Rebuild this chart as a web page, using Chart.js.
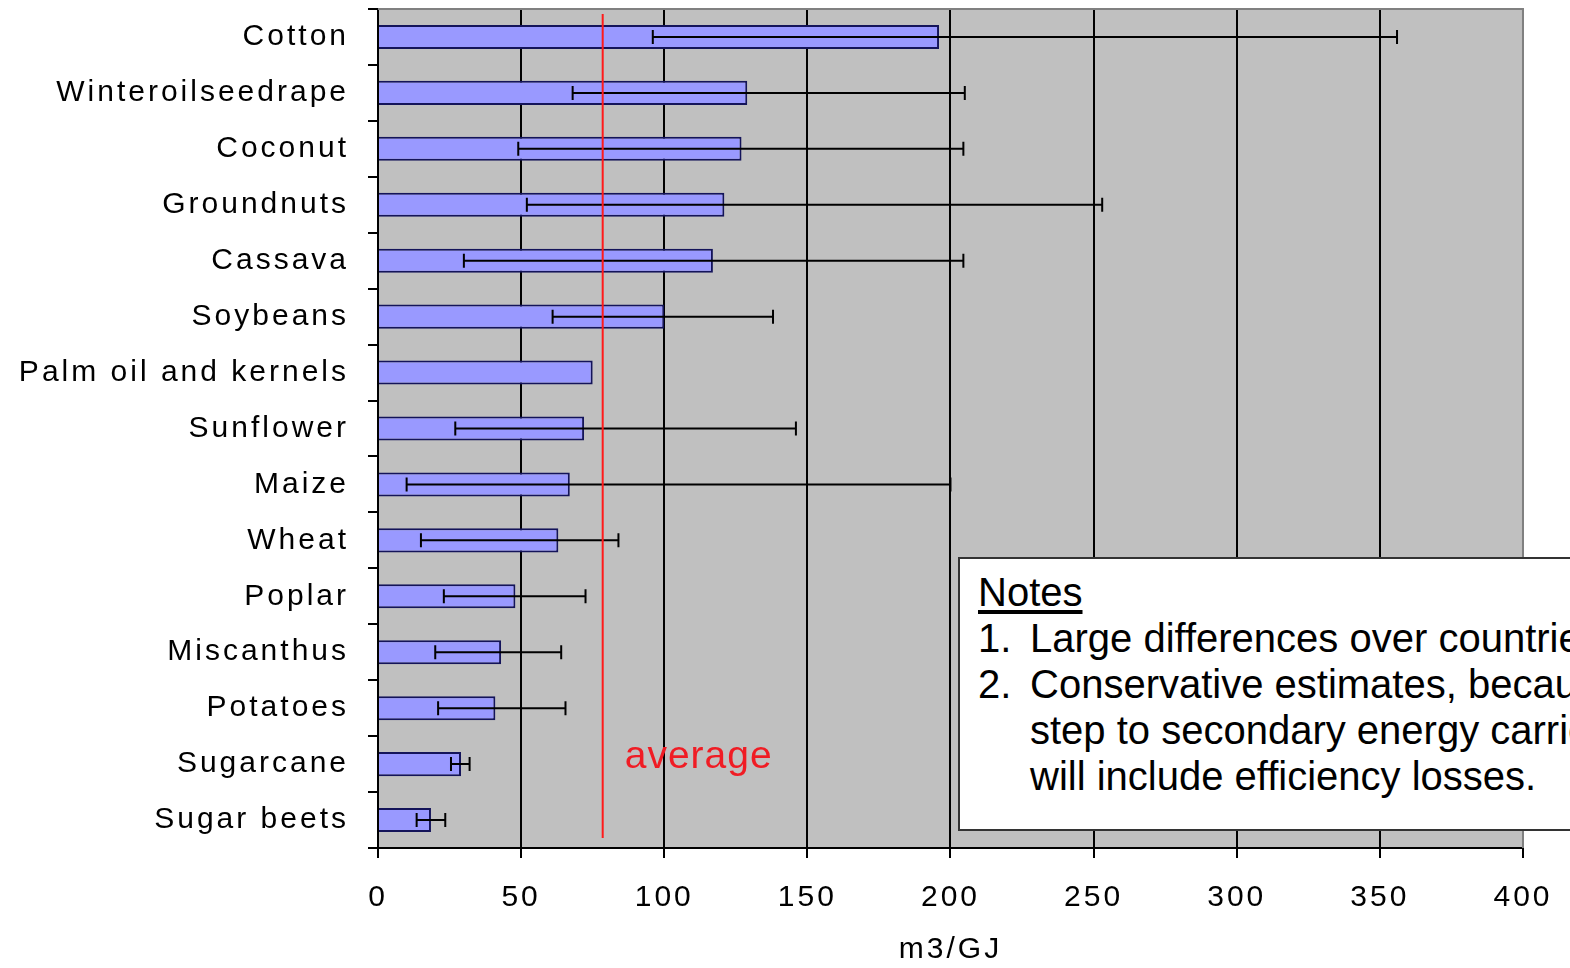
<!DOCTYPE html>
<html>
<head>
<meta charset="utf-8">
<script src="https://cdn.jsdelivr.net/npm/chart.js@4.4.1/dist/chart.umd.min.js"></script>
<style>
    html, body { margin: 0; padding: 0; background: #fff; overflow: hidden; }
    #wrap { position: relative; width: 1570px; height: 968px; }
    #notes {
        position: absolute;
        left: 958px;
        top: 557px;
        width: 700px;
        height: 274px;
        border: 2px solid #333;
        background: #fff;
        font-family: "Liberation Sans", Arial, sans-serif;
        font-size: 40px;
        line-height: 46px;
        color: #000;
        padding: 10px 0 0 18px;
        box-sizing: border-box;
        white-space: nowrap;
    }
    #notes .title { text-decoration: underline; text-underline-offset: 4px; }
    #notes .row { display: flex; }
    #notes .num { width: 52px; flex: none; }
</style>
</head>
<body>
<div id="wrap">
    <canvas id="myChart"></canvas>
    <div id="notes">
        <div class="title">Notes</div>
        <div class="row"><span class="num">1.</span><span>Large differences over countries</span></div>
        <div class="row"><span class="num">2.</span><span>Conservative estimates, because the conversion<br>step to secondary energy carriers<br>will include efficiency losses.</span></div>
    </div>
</div>
<script>
const crops = ["Cotton", "Winteroilseedrape", "Coconut", "Groundnuts", "Cassava", "Soybeans",
    "Palm oil and kernels", "Sunflower", "Maize", "Wheat", "Poplar", "Miscanthus",
    "Potatoes", "Sugarcane", "Sugar beets"];
const values = [196, 129, 127, 121, 117, 100, 75, 72, 67, 63, 48, 43, 41, 29, 18.5];
const errLow = [96, 68, 49, 52, 30, 61, null, 27, 10, 15, 23, 20, 21, 25.5, 13.5];
const errHigh = [356, 205, 204.5, 253, 204.5, 138, null, 146, 200, 84, 72.5, 64, 65.5, 32, 23.5];
const xTicks = [0, 50, 100, 150, 200, 250, 300, 350, 400];
const average = 78.5;

const fontFamily = '"Liberation Sans", Arial, sans-serif';

// grey plot background, border on top/right, spaced-out axis text
const plotBackground = {
    id: 'plotBackground',
    beforeDraw: (chart) => {
        const {ctx, chartArea: a} = chart;
        ctx.letterSpacing = '3px';
        ctx.save();
        ctx.fillStyle = '#c0c0c0';
        ctx.fillRect(a.left, a.top, a.right - a.left, a.bottom - a.top);
        ctx.restore();
    },
    afterDraw: (chart) => {
        const {ctx, chartArea: a} = chart;
        ctx.save();
        ctx.strokeStyle = '#808080';
        ctx.lineWidth = 2;
        ctx.beginPath();
        ctx.moveTo(a.left, a.top);
        ctx.lineTo(a.right, a.top);
        ctx.lineTo(a.right, a.bottom);
        ctx.stroke();
        ctx.restore();
    }
};

// error bars and the average line
const extras = {
    id: 'extras',
    afterDatasetsDraw: (chart) => {
        const {ctx, chartArea: a} = chart;
        const x = chart.scales.x;
        const meta = chart.getDatasetMeta(0);

        ctx.save();
        ctx.strokeStyle = '#000';
        ctx.lineWidth = 2;
        meta.data.forEach((bar, i) => {
            if (errLow[i] === null) return;
            let x1 = x.getPixelForValue(errLow[i]);
            let x2 = x.getPixelForValue(errHigh[i]);
            let y = bar.y;
            ctx.beginPath();
            ctx.moveTo(x1, y);
            ctx.lineTo(x2, y);
            ctx.moveTo(x1, y - 7);
            ctx.lineTo(x1, y + 7);
            ctx.moveTo(x2, y - 7);
            ctx.lineTo(x2, y + 7);
            ctx.stroke();
        });

        let xa = x.getPixelForValue(average);
        ctx.strokeStyle = '#ff1a1a';
        ctx.beginPath();
        ctx.moveTo(xa, a.top + 5);
        ctx.lineTo(xa, a.bottom - 10);
        ctx.stroke();

        ctx.letterSpacing = '1px';
        ctx.fillStyle = '#f01c24';
        ctx.font = '39px ' + fontFamily;
        ctx.textAlign = 'left';
        ctx.textBaseline = 'alphabetic';
        ctx.fillText('average', xa + 22, 768);
        ctx.restore();
    }
};

const data = {
    labels: crops,
    datasets: [{
        data: values,
        backgroundColor: '#9999ff',
        borderColor: '#14145a',
        borderWidth: 2,
        barPercentage: 0.43,
        categoryPercentage: 1
    }]
};

const config = {
    type: 'bar',
    data: data,
    plugins: [plotBackground, extras],
    options: {
        indexAxis: 'y',
        responsive: true,
        maintainAspectRatio: false,
        animation: false,
        layout: { padding: { top: 9, right: 47, bottom: 0, left: 0 } },
        plugins: {
            legend: { display: false },
            tooltip: { enabled: false }
        },
        scales: {
            x: {
                min: 0,
                max: 400,
                afterFit: (s) => { s.height = 120; },
                afterBuildTicks: (s) => { s.ticks = xTicks.map(v => ({ value: v })); },
                border: { color: '#000', width: 2 },
                grid: {
                    color: (c) => c.tick && c.tick.value === 400 ? '#808080' : '#000',
                    lineWidth: 2,
                    tickLength: 10,
                    tickColor: '#000'
                },
                ticks: {
                    color: '#000',
                    padding: 22,
                    font: { family: fontFamily, size: 30 },
                    maxRotation: 0
                },
                title: {
                    display: true,
                    text: 'm3/GJ',
                    color: '#000',
                    font: { family: fontFamily, size: 30 },
                    padding: { top: 0, bottom: 0 }
                }
            },
            y: {
                afterFit: (s) => {
                    s.width = 378;
                    s.paddingTop = 0;
                    s.paddingBottom = 0;
                },
                border: { color: '#000', width: 2 },
                grid: {
                    drawOnChartArea: false,
                    color: '#000',
                    lineWidth: 2,
                    tickLength: 10
                },
                ticks: {
                    color: '#000',
                    padding: 19,
                    font: { family: fontFamily, size: 30 }
                }
            }
        }
    }
};

document.querySelector('#myChart').style.width = '1570px';
document.querySelector('#myChart').style.height = '968px';

var myChart = new Chart(
    document.getElementById('myChart'),
    config
);
</script>
</body>
</html>
